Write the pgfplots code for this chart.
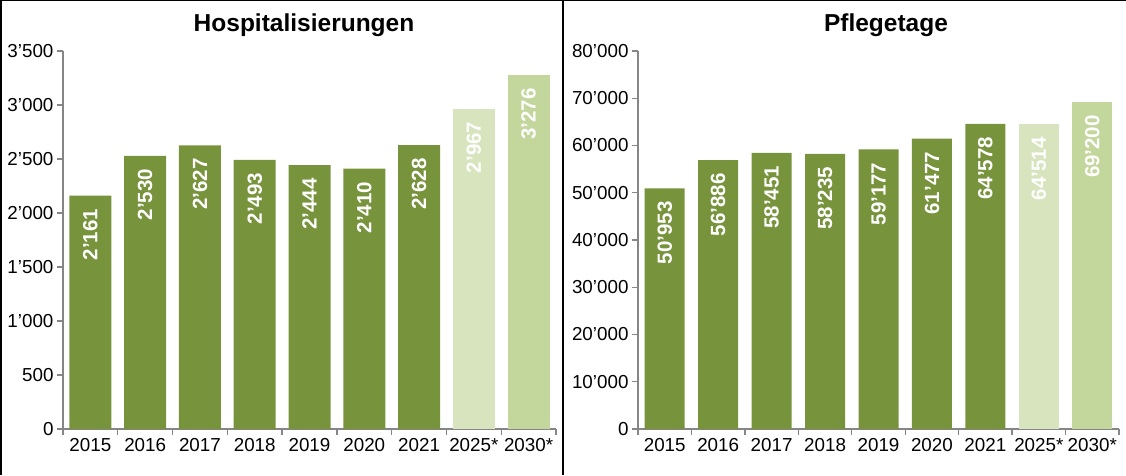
\documentclass[border=0pt]{standalone}
\usepackage{fontspec}
\setmainfont{Liberation Sans}
\usepackage{pgfplots}
\pgfplotsset{compat=1.18}
\definecolor{barDark}{HTML}{77933C}
\definecolor{bar25}{HTML}{D7E4BD}
\definecolor{bar30}{HTML}{C3D69B}
\definecolor{axGray}{HTML}{868686}

\pgfplotsset{
  panel/.style={
    scale only axis,
    anchor=south west,
    height=378pt,
    axis lines*=left,
    axis line style={axGray, line width=1.4pt},
    xmin=-0.5, xmax=8.5, ymin=0,
    xtick={0,...,8},
    xticklabels={2015,2016,2017,2018,2019,2020,2021,2025*,2030*},
    minor xtick={-0.5,0.5,...,8.5},
    major x tick style={draw=none},
    minor x tick style={axGray, line width=1.4pt},
    y tick style={axGray, line width=1.4pt},
    tick align=outside,
    major tick length=6pt, minor tick length=6pt,
    ticklabel style={font=\fontsize{18.8}{22}\selectfont},
    /pgf/number format/assume math mode=true,
    /pgf/number format/fixed, /pgf/number format/precision=0,
    /pgf/number format/1000 sep={’},
    scaled y ticks=false,
    nodes near coords,
    every node near coord/.append style={font=\bfseries\fontsize{20.5}{24}\selectfont,
      text=white, yshift=-13pt, rotate=90, anchor=east, inner sep=0pt},
  },
}

\begin{document}
\begin{tikzpicture}
\path[use as bounding box] (0,0) rectangle (1126pt,475pt);

\begin{axis}[panel, at={(63pt,46pt)}, width=493pt, ymax=3500,
    ytick={0,500,...,3500}, bar width=42pt]
  \addplot[ybar, bar shift=0pt, fill=barDark, draw=none] coordinates {
    (0,2161) (1,2530) (2,2627) (3,2493) (4,2444) (5,2410) (6,2628)};
  \addplot[ybar, bar shift=0pt, fill=bar25, draw=none] coordinates {(7,2967)};
  \addplot[ybar, bar shift=0pt, fill=bar30, draw=none] coordinates {(8,3276)};
\end{axis}

\begin{axis}[panel, at={(638pt,46pt)}, width=481pt, ymax=80000,
    ytick={0,10000,...,80000}, bar width=40pt]
  \addplot[ybar, bar shift=0pt, fill=barDark, draw=none] coordinates {
    (0,50953) (1,56886) (2,58451) (3,58235) (4,59177) (5,61477) (6,64578)};
  \addplot[ybar, bar shift=0pt, fill=bar25, draw=none] coordinates {(7,64514)};
  \addplot[ybar, bar shift=0pt, fill=bar30, draw=none] coordinates {(8,69200)};
\end{axis}

\node[font=\bfseries\fontsize{24.5}{28}\selectfont] at (304pt,450pt) {Hospitalisierungen};
\node[font=\bfseries\fontsize{24.5}{28}\selectfont] at (886pt,450pt) {Pflegetage};

\draw[black, line width=1.5pt] (0.75pt,0pt) -- (0.75pt,474.25pt) -- (1126pt,474.25pt);
\draw[black, line width=1.5pt] (563pt,0pt) -- (563pt,475pt);
\end{tikzpicture}
\end{document}
